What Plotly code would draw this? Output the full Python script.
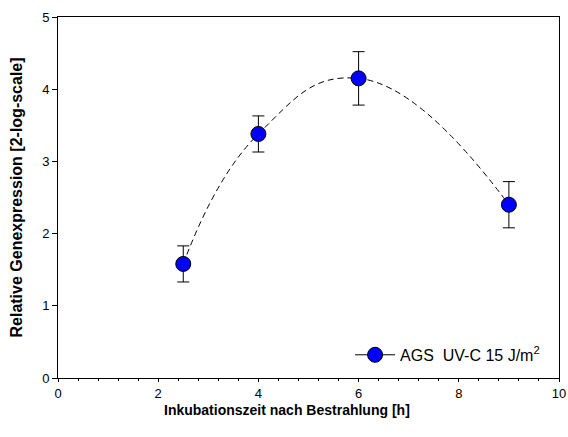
import plotly.graph_objects as go

# Inkubationszeit [h] und relative Genexpression (2-log) mit Fehlern
zeit_h = [2.5, 4.0, 6.0, 9.0]
expression = [1.58, 3.38, 4.15, 2.40]
fehler = [0.25, 0.25, 0.37, 0.32]

x_ticks = [0, 2, 4, 6, 8, 10]
y_ticks = [0, 1, 2, 3, 4, 5]

serie_name = "AGS  UV-C 15 J/m<sup>2</sup>"
x_titel = "<b>Inkubationszeit nach Bestrahlung [h]</b>"
y_titel = "<b>Relative Genexpression [2-log-scale]</b>"

fig = go.Figure()

# Gestrichelte, geglättete Verbindungslinie
fig.add_trace(go.Scatter(
    x=zeit_h, y=expression,
    mode="lines",
    line=dict(color="black", width=1, dash="6px,4px", shape="spline", smoothing=1.3),
    showlegend=False, hoverinfo="skip",
))

# Messpunkte mit Fehlerbalken
fig.add_trace(go.Scatter(
    x=zeit_h, y=expression,
    mode="markers",
    marker=dict(size=15, color="#0000FF", line=dict(color="black", width=1)),
    error_y=dict(type="data", array=fehler, visible=True, color="black",
                 thickness=1, width=6),
    showlegend=False,
))

# Legendeneintrag (durchgezogene Linie mit Symbol)
fig.add_trace(go.Scatter(
    x=[None], y=[None],
    mode="lines+markers",
    name=serie_name,
    line=dict(color="black", width=1),
    marker=dict(size=15, color="#0000FF", line=dict(color="black", width=1)),
))

achse = dict(
    showline=True, linecolor="black", linewidth=1, mirror=True,
    showgrid=False, zeroline=False, automargin=False,
    ticks="outside", ticklen=5, tickwidth=1, tickcolor="black",
    tickfont=dict(family="Liberation Sans, Arial", size=13, color="black"),
)

fig.update_layout(
    width=568, height=437,
    margin=dict(l=58, r=9, t=17, b=59),
    paper_bgcolor="white", plot_bgcolor="white",
    font=dict(family="Liberation Sans, Arial", color="black"),
    xaxis=dict(
        achse, range=[0, 10], tickvals=x_ticks, ticklen=3,
        minor=dict(dtick=0.4, tick0=0, ticks="outside", ticklen=2,
                   tickcolor="black", tickwidth=1),
    ),
    yaxis=dict(achse, range=[0, 5], tickvals=y_ticks),
    legend=dict(
        x=0.583, y=0.064, xanchor="left", yanchor="middle",
        bgcolor="rgba(0,0,0,0)", font=dict(size=16),
        itemwidth=40,
    ),
    annotations=[
        dict(text=x_titel, xref="paper", yref="paper", x=0.457, y=-0.0886,
             xanchor="center", yanchor="middle", showarrow=False,
             font=dict(size=14)),
        dict(text=y_titel, xref="paper", yref="paper", x=-0.0838, y=0.5,
             xanchor="center", yanchor="middle", showarrow=False,
             textangle=-90, font=dict(size=16)),
    ],
)

fig.write_html("out.html")
